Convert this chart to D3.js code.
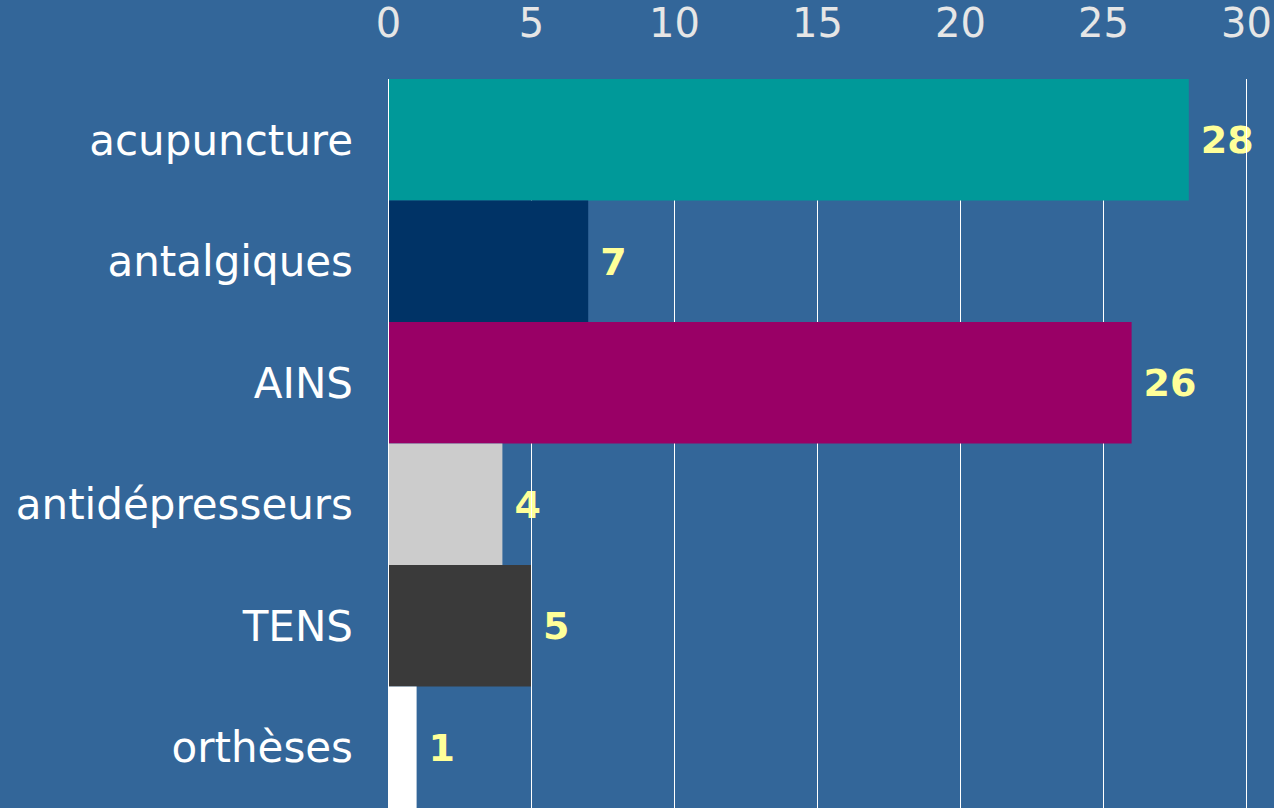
<!DOCTYPE html>
<html>
<head>
<meta charset="utf-8">
<script src="https://cdn.jsdelivr.net/npm/d3@7"></script>
<style>
  html, body { margin: 0; padding: 0; background: #336699; }
  svg { display: block; font-family: "DejaVu Sans", Verdana, sans-serif; }
</style>
</head>
<body>
<div id="chart"></div>
<script>
const categories = ["acupuncture", "antalgiques", "AINS", "antidépresseurs", "TENS", "orthèses"];
const values = [28, 7, 26, 4, 5, 1];
const barColors = ["#009999", "#003366", "#990066", "#cccccc", "#3a3a3a", "#ffffff"];
const tickValues = [0, 5, 10, 15, 20, 25, 30];

const width = 1274, height = 808;
const margin = {top: 79, right: 28, bottom: 0, left: 388};

const svg = d3.select("#chart").append("svg")
    .attr("width", width)
    .attr("height", height);

svg.append("rect")
    .attr("width", width)
    .attr("height", height)
    .attr("fill", "#336699");

const xScale = d3.scaleLinear()
    .domain([0, 30])
    .range([margin.left, width - margin.right]);

const yScale = d3.scaleBand()
    .domain(categories)
    .range([margin.top, height - margin.bottom])
    .padding(0);

// tick labels on top
const xAxis = d3.axisTop(xScale)
    .tickValues(tickValues)
    .tickSize(0)
    .tickPadding(0);

const xAxisG = svg.append("g")
    .attr("transform", "translate(0,37)")
    .call(xAxis);
xAxisG.select(".domain").remove();
xAxisG.selectAll(".tick text")
    .attr("dy", 0)
    .attr("fill", "#e6e6e6")
    .style("font-size", "40px")
    .style("font-family", "'DejaVu Sans', Verdana, sans-serif");

// category labels
const yAxis = d3.axisLeft(yScale)
    .tickSize(0)
    .tickPadding(35);

const yAxisG = svg.append("g")
    .attr("transform", `translate(${margin.left},0)`)
    .call(yAxis);
yAxisG.select(".domain").remove();
yAxisG.selectAll(".tick text")
    .attr("dy", "0.36em")
    .attr("fill", "#ffffff")
    .style("font-size", "42px")
    .style("font-family", "'DejaVu Sans', Verdana, sans-serif");

// value labels (sit under the gridlines)
svg.append("g")
  .selectAll("text")
    .data(values)
  .join("text")
    .attr("x", d => xScale(d) + 12)
    .attr("y", (d, i) => yScale(categories[i]) + yScale.bandwidth() / 2)
    .attr("dy", "0.36em")
    .attr("fill", "#ffff99")
    .style("font-size", "38px")
    .style("font-weight", "bold")
    .text(d => d);

// gridlines
svg.append("g")
  .selectAll("line")
    .data(tickValues)
  .join("line")
    .attr("x1", d => Math.round(xScale(d)) + 0.5)
    .attr("x2", d => Math.round(xScale(d)) + 0.5)
    .attr("y1", margin.top)
    .attr("y2", height)
    .attr("stroke", "#ffffff")
    .attr("stroke-width", 1);

// bars
svg.append("g")
  .selectAll("rect")
    .data(values)
  .join("rect")
    .attr("x", xScale(0) + 1)
    .attr("y", (d, i) => yScale(categories[i]))
    .attr("width", d => xScale(d) - xScale(0) - 1)
    .attr("height", yScale.bandwidth())
    .attr("fill", (d, i) => barColors[i]);
</script>
</body>
</html>
